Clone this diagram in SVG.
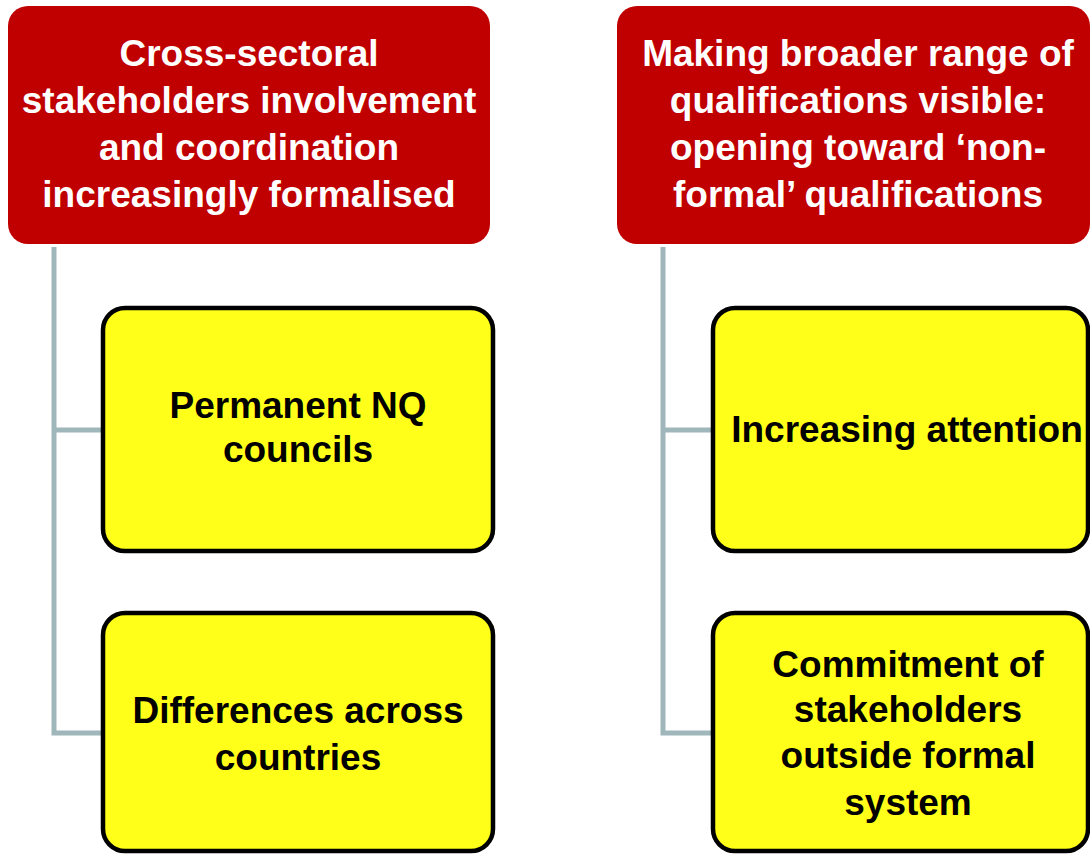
<svg xmlns="http://www.w3.org/2000/svg" width="1090" height="855" viewBox="0 0 1090 855">
<style>
.head{fill:#C00000}
.leaf{fill:#FFFF1A;stroke:#000;stroke-width:4.5}
.ht{fill:#fff;font-family:"Liberation Sans",Arial,sans-serif;font-weight:bold;font-size:37px;text-anchor:middle}
.lt{fill:#000;font-family:"Liberation Sans",Arial,sans-serif;font-weight:bold;font-size:37px;text-anchor:middle}
.conn{fill:none;stroke:#9FB6BB;stroke-width:5}
</style>
<rect width="1090" height="855" fill="#fff"/>
<g id="connectors">
<path class="conn" d="M54 247 V733 H103 M54 430 H103"/>
<path class="conn" d="M663 247 V733 H713 M663 430 H713"/>
</g>
<g id="head-left">
<rect class="head" x="8" y="6" width="482" height="238" rx="20"/>
<text class="ht" x="249" y="66">Cross-sectoral</text>
<text class="ht" x="249" y="113">stakeholders involvement</text>
<text class="ht" x="249" y="160">and coordination</text>
<text class="ht" x="249" y="207">increasingly formalised</text>
</g>
<g id="head-right">
<rect class="head" x="617" y="6" width="473" height="238" rx="20"/>
<text class="ht" x="858" y="66">Making broader range of</text>
<text class="ht" x="858" y="113">qualifications visible:</text>
<text class="ht" x="858" y="160">opening toward ‘non-</text>
<text class="ht" x="858" y="207">formal’ qualifications</text>
</g>
<g id="leaf-permanent">
<rect class="leaf" x="103" y="308" width="390" height="243" rx="22"/>
<text class="lt" x="298" y="418">Permanent NQ</text>
<text class="lt" x="298" y="462">councils</text>
</g>
<g id="leaf-differences">
<rect class="leaf" x="103" y="613" width="390" height="238" rx="22"/>
<text class="lt" x="298" y="723">Differences across</text>
<text class="lt" x="298" y="770">countries</text>
</g>
<g id="leaf-attention">
<rect class="leaf" x="713" y="308" width="375" height="243" rx="22"/>
<text class="lt" x="907" y="442">Increasing attention</text>
</g>
<g id="leaf-commitment">
<rect class="leaf" x="713" y="613" width="375" height="238" rx="22"/>
<text class="lt" x="908" y="677">Commitment of</text>
<text class="lt" x="908" y="722">stakeholders</text>
<text class="lt" x="908" y="768">outside formal</text>
<text class="lt" x="908" y="815">system</text>
</g>
</svg>
